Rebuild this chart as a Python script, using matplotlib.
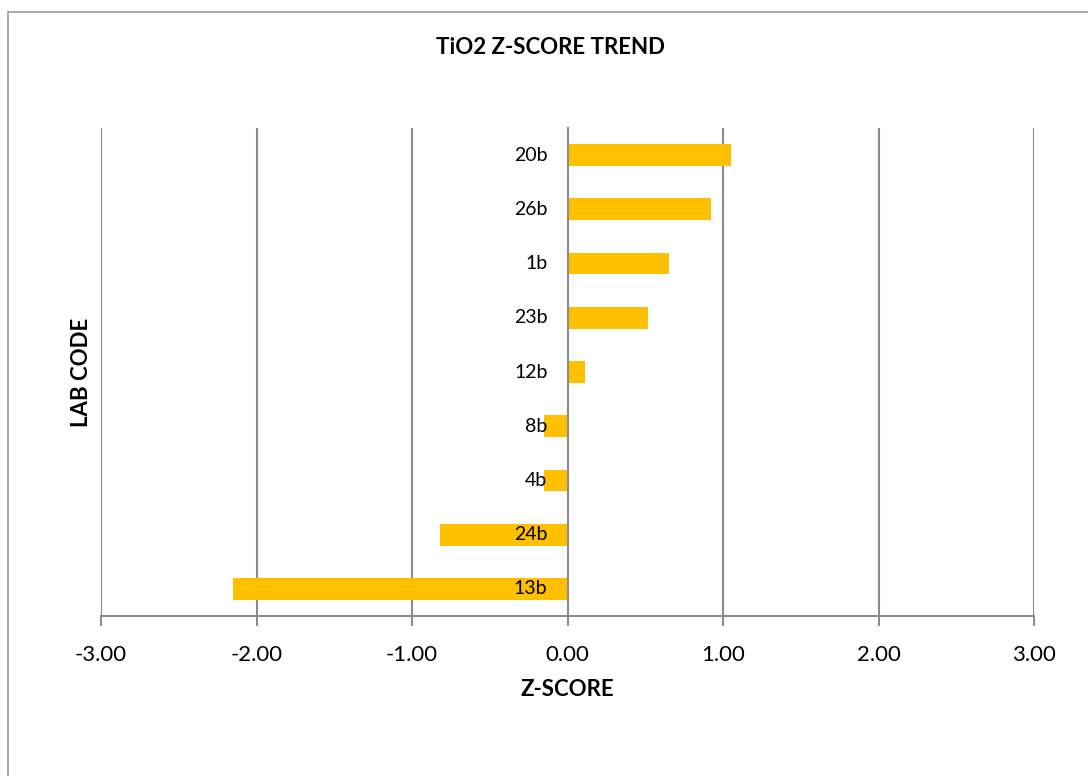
import matplotlib
matplotlib.use('Agg')
import numpy as np
import matplotlib.pyplot as plt
from matplotlib.patches import Rectangle

# data, top to bottom as drawn
labs = ['20b', '26b', '1b', '23b', '12b', '8b', '4b', '24b', '13b']
zscores = [1.05, 0.92, 0.65, 0.52, 0.11, -0.15, -0.15, -0.82, -2.15]
xticks = [-3, -2, -1, 0, 1, 2, 3]

plt.rcParams['font.family'] = ['Lato', 'DejaVu Sans']

fig = plt.figure(figsize=(10.88, 7.76), dpi=100)
ax = fig.add_axes([101/1088, 1 - 616/776, 933/1088, 488/776])

# outer chart border (only left/top visible in the crop)
fig.patches.append(Rectangle((8/1088, -0.1), 1.2, 1.1 - 12/776, transform=fig.transFigure,
                             fill=False, edgecolor='#9a9a9a', linewidth=1.2))

ypos = np.arange(len(labs))
ax.barh(ypos, zscores, height=0.4, color='#FFC000', zorder=2)

ax.set_xlim(-3, 3)
ax.set_ylim(len(labs) - 0.5, -0.5)
ax.set_xticks(xticks)
ax.set_xticklabels(['%.2f' % v for v in xticks], fontsize=16)
ax.set_yticks(ypos)
ax.set_yticklabels([])

# category labels sit at the zero line, drawn over the bars
for y, lab in zip(ypos, labs):
    ax.annotate(lab, (0, y), xytext=(-20, 0), textcoords='offset pixels',
                ha='right', va='center', fontsize=14, zorder=5)

ax.grid(axis='x', color='#8c8c8c', linewidth=1.5, zorder=0)
ax.set_axisbelow(True)

for s in ['top', 'right']:
    ax.spines[s].set_visible(False)
ax.spines['left'].set_position(('data', 0))
ax.spines['left'].set_color('#8c8c8c')
ax.spines['left'].set_linewidth(1.5)
ax.spines['bottom'].set_color('#8c8c8c')
ax.spines['bottom'].set_linewidth(1.5)
ax.tick_params(axis='y', length=0)
ax.tick_params(axis='x', length=7, width=1.5, color='#8c8c8c', pad=14)

ax.set_xlabel('Z-SCORE', fontsize=16, fontweight='bold', labelpad=10)
fig.text(82/1088, 1 - 372/776, 'LAB CODE', rotation=90, fontsize=16, fontweight='bold',
         ha='center', va='center')
fig.text(551/1088, 1 - 48/776, 'TiO2 Z-SCORE TREND', fontsize=16, fontweight='bold',
         ha='center', va='center')

fig.savefig('out.png', dpi=100)
